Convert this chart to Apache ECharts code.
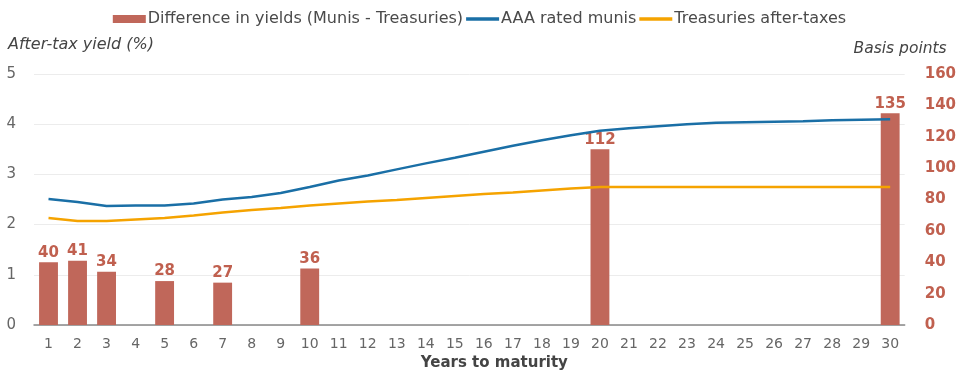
<!DOCTYPE html>
<html><head><meta charset="utf-8">
<script src="https://cdn.jsdelivr.net/npm/echarts@6/dist/echarts.min.js"></script>
<style>html,body{margin:0;padding:0;background:#fff}#c{width:959px;height:380px}</style>
</head><body><div id="c"></div>
<script>
const years = ['1','2','3','4','5','6','7','8','9','10','11','12','13','14','15','16','17','18','19','20','21','22','23','24','25','26','27','28','29','30'];
const diffBp = [40,41,34,null,28,null,27,null,null,36,null,null,null,null,null,null,null,null,null,112,null,null,null,null,null,null,null,null,null,135];
const munis = [2.51,2.45,2.37,2.38,2.38,2.42,2.5,2.55,2.63,2.75,2.88,2.98,3.1,3.22,3.33,3.45,3.57,3.68,3.78,3.87,3.92,3.96,4.0,4.03,4.04,4.05,4.06,4.08,4.09,4.1];
const treas = [2.13,2.07,2.07,2.1,2.13,2.18,2.24,2.29,2.33,2.38,2.42,2.46,2.49,2.53,2.57,2.61,2.64,2.68,2.72,2.75,2.75,2.75,2.75,2.75,2.75,2.75,2.75,2.75,2.75,2.75];
const leftTicks = [0,5,1];
const rightTicks = [0,160,20];

const FONT = 'DejaVu Sans';
const chart = echarts.init(document.getElementById('c'));
chart.setOption({
  animation:false,
  textStyle:{fontFamily:FONT},
  legend:{top:6,left:'center',itemGap:3,itemWidth:33,itemHeight:8,
    textStyle:{fontSize:16,color:'#4a4a4a',fontFamily:FONT,padding:[0,0,0,-3]},
    data:[
      {name:'Difference in yields (Munis - Treasuries)',icon:'path://M0,0 L33,0 L33,8 L0,8 Z'},
      {name:'AAA rated munis',icon:'path://M0,0 L30,0 L30,3 L0,3 Z'},
      {name:'Treasuries after-taxes',icon:'path://M0,0 L30,0 L30,3 L0,3 Z'}]},
  grid:{left:34,right:53,top:74,bottom:55,containLabel:false},
  xAxis:{type:'category',data:years,
    name:'Years to maturity',nameLocation:'middle',nameGap:29,
    nameTextStyle:{fontWeight:'bold',fontSize:15,color:'#444',padding:[0,0,0,50]},
    axisLine:{lineStyle:{color:'#888',width:1.5}},axisTick:{show:false},
    axisLabel:{color:'#666',fontSize:14,margin:12}},
  yAxis:[
    {type:'value',min:leftTicks[0],max:leftTicks[1],interval:leftTicks[2],
     name:'After-tax yield (%)',nameLocation:'end',nameGap:21,
     nameTextStyle:{fontStyle:'italic',fontSize:16,color:'#444',align:'left',padding:[0,0,0,-26]},
     axisLabel:{color:'#666',fontSize:15,margin:18},
     splitLine:{lineStyle:{color:'#ececec'}},axisLine:{show:false},axisTick:{show:false}},
    {type:'value',min:rightTicks[0],max:rightTicks[1],interval:rightTicks[2],position:'right',
     name:'Basis points',nameLocation:'end',nameGap:17,
     nameTextStyle:{fontStyle:'italic',fontSize:15.5,color:'#444',align:'right',padding:[0,-42,0,0]},
     axisLabel:{color:'#C0604F',fontSize:15,fontWeight:'bold',margin:20,align:'left'},
     splitLine:{show:false},axisLine:{show:false},axisTick:{show:false}}
  ],
  series:[
    {name:'Difference in yields (Munis - Treasuries)',type:'bar',yAxisIndex:1,data:diffBp,
     barWidth:'65%',itemStyle:{color:'#C0675A'},
     label:{show:true,position:'top',distance:2,color:'#C0604F',fontWeight:'bold',fontSize:15}},
    {name:'AAA rated munis',type:'line',data:munis,showSymbol:false,symbol:'none',
     lineStyle:{color:'#1A6FA6',width:2.5},itemStyle:{color:'#1A6FA6'},z:5},
    {name:'Treasuries after-taxes',type:'line',data:treas,showSymbol:false,symbol:'none',
     lineStyle:{color:'#F5A300',width:2.5},itemStyle:{color:'#F5A300'},z:5}
  ]
});
</script></body></html>
